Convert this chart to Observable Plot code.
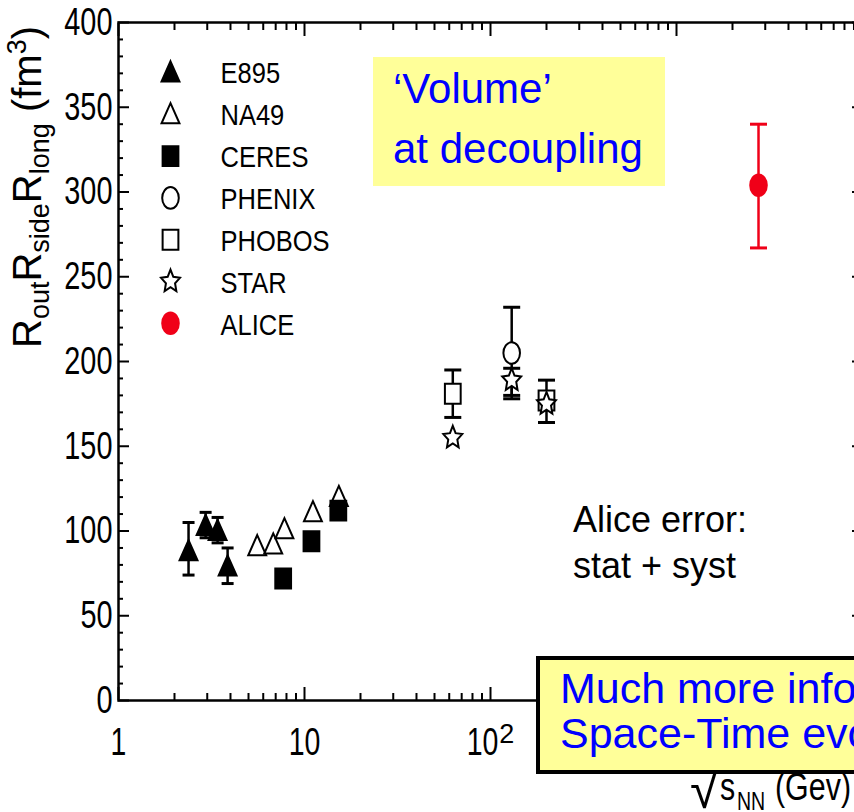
<!DOCTYPE html>
<html><head><meta charset="utf-8">
<script src="https://cdn.jsdelivr.net/npm/d3@7"></script>
<script src="https://cdn.jsdelivr.net/npm/@observablehq/plot@0.6"></script>
<style>
body{margin:0;background:#fff;}
#chart{width:854px;height:812px;overflow:hidden;}
</style>
</head><body><div id="chart"></div>
<script>
// ---------------- data ----------------
const e895X  = [2.38, 2.94, 3.41, 3.86];
const e895Y  = [88, 103, 100, 79];
const e895Lo = [74, 96, 93, 69];
const e895Hi = [105, 111, 108, 90];

const na49X = [5.57, 6.79, 7.80, 11.1, 15.3];
const na49Y = [91, 92, 101, 111, 120];

const ceresX = [7.68, 10.9, 15.2];
const ceresY = [72, 94, 112];

const phenixX  = [130];
const phenixY  = [205];
const phenixLo = [180];
const phenixHi = [232];

const phobosX  = [62.7, 200];
const phobosY  = [181, 177];
const phobosLo = [167, 164];
const phobosHi = [195, 189];

const starX  = [62.7, 130, 200];
const starY  = [155, 189, 175];
const starLo = [null, 178, null];
const starHi = [null, 196, null];

const aliceX  = [2760];
const aliceY  = [304];
const aliceLo = [267];
const aliceHi = [340];

const legendLabels = ["E895", "NA49", "CERES", "PHENIX", "PHOBOS", "STAR", "ALICE"];

const xMajorTicks = [1, 10, 100, 1000, 10000];
const xLabelTicks = [1, 10, 100];
const xTickBase = {1: "1", 10: "10", 100: "10"};
const xTickExp = {1: "", 10: "", 100: "2"};
const yMajorTicks = [0, 50, 100, 150, 200, 250, 300, 350, 400];

// ---------------- helpers ----------------
const FONT = "'Liberation Sans', Arial, Helvetica, sans-serif";
const BLUE = "#0000ff", YELLOW = "#ffff99", RED = "#f00018";

function table(xs, ys, lo, hi) {
  return xs.map((x, i) => ({x, y: ys[i], lo: lo ? lo[i] : null, hi: hi ? hi[i] : null}));
}
const e895 = table(e895X, e895Y, e895Lo, e895Hi);
const na49 = table(na49X, na49Y);
const ceres = table(ceresX, ceresY);
const phenix = table(phenixX, phenixY, phenixLo, phenixHi);
const phobos = table(phobosX, phobosY, phobosLo, phobosHi);
const star = table(starX, starY, starLo, starHi);
const alice = table(aliceX, aliceY, aliceLo, aliceHi);

function sym(fn) { return {draw(ctx, size) { fn(ctx, Math.sqrt(size / Math.PI)); }}; }
const triSym = sym((c, r) => { c.moveTo(0, -1.35 * r); c.lineTo(1.08 * r, 1.08 * r); c.lineTo(-1.08 * r, 1.08 * r); c.closePath(); });
const sqSym = sym((c, r) => { const a = 0.95 * r, b = 1.2 * r; c.moveTo(-a, -b); c.lineTo(a, -b); c.lineTo(a, b); c.lineTo(-a, b); c.closePath(); });
const ellSym = sym((c, r) => {
  const a = r, b = 1.3 * r, k = 0.5523;
  c.moveTo(a, 0);
  c.bezierCurveTo(a, b * k, a * k, b, 0, b);
  c.bezierCurveTo(-a * k, b, -a, b * k, -a, 0);
  c.bezierCurveTo(-a, -b * k, -a * k, -b, 0, -b);
  c.bezierCurveTo(a * k, -b, a, -b * k, a, 0);
  c.closePath();
});
const starSym = sym((c, r) => {
  const R = 1.2 * r, ri = 0.48 * R, sy = 1.2;
  for (let i = 0; i < 10; i++) {
    const rad = i % 2 ? ri : R, ang = -Math.PI / 2 + i * Math.PI / 5;
    const px = rad * Math.cos(ang), py = rad * Math.sin(ang) * sy;
    if (i) c.lineTo(px, py); else c.moveTo(px, py);
  }
  c.closePath();
});
const capSym = sym((c, r) => { c.moveTo(-r, 0); c.lineTo(r, 0); });

const styles = {
  E895:   {symbol: triSym,  fill: "black", stroke: "black"},
  NA49:   {symbol: triSym,  fill: "white", stroke: "black"},
  CERES:  {symbol: sqSym,   fill: "black", stroke: "black"},
  PHENIX: {symbol: ellSym,  fill: "white", stroke: "black"},
  PHOBOS: {symbol: sqSym,   fill: "white", stroke: "black"},
  STAR:   {symbol: starSym, fill: "white", stroke: "black"},
  ALICE:  {symbol: ellSym,  fill: RED,     stroke: RED}
};

function errorBars(data, color, capR) {
  const d = data.filter(p => p.lo != null);
  return [
    Plot.ruleX(d, {x: "x", y1: "lo", y2: "hi", stroke: color, strokeWidth: 2.5}),
    Plot.dot(d, {x: "x", y: "lo", symbol: capSym, r: capR, stroke: color, strokeWidth: 3, fill: "none"}),
    Plot.dot(d, {x: "x", y: "hi", symbol: capSym, r: capR, stroke: color, strokeWidth: 3, fill: "none"})
  ];
}
function points(data, name) {
  const s = styles[name];
  return Plot.dot(data, {x: "x", y: "y", r: 8.3, symbol: s.symbol, fill: s.fill, stroke: s.stroke, strokeWidth: 2});
}

const xMinorTicks = [];
for (const d of [1, 10, 100, 1000]) for (let m = 2; m <= 9; m++) xMinorTicks.push(d * m);
const yMinorTicks = d3.range(0, 401, 10).filter(v => v % 50 !== 0);

const tickOpts = {fill: "none", label: null, stroke: "black", strokeWidth: 2};

const legendMarks = legendLabels.flatMap((name, i) => {
  const s = styles[name];
  return [
    Plot.dot([0], {frameAnchor: "top-left", dx: 52, dy: 50 + i * 41.8, r: 8.3, symbol: s.symbol, fill: s.fill, stroke: s.stroke, strokeWidth: 2}),
    Plot.text([name], {frameAnchor: "top-left", dx: 102, dy: 51 + i * 42, text: d => d, textAnchor: "start", lineAnchor: "middle",
      fontSize: 30, fontFamily: FONT, fill: "black", className: "condense-legend"})
  ];
});

const svg = Plot.plot({
  width: 854,
  height: 812,
  marginLeft: 118,
  marginRight: -8,
  marginTop: 22,
  marginBottom: 112,
  style: {background: "white", overflow: "hidden", fontFamily: FONT},
  x: {type: "log", domain: [1, 10000]},
  y: {domain: [0, 400]},
  marks: [
    // ticks pointing inward on all four sides
    Plot.axisX(xMajorTicks, {anchor: "bottom", tickSize: -13, ...tickOpts}),
    Plot.axisX(xMinorTicks, {anchor: "bottom", tickSize: -7, ...tickOpts}),
    Plot.axisX(xMajorTicks, {anchor: "top", tickSize: -13, ...tickOpts}),
    Plot.axisX(xMinorTicks, {anchor: "top", tickSize: -7, ...tickOpts}),
    Plot.axisY(yMajorTicks, {anchor: "left", tickSize: -11, ...tickOpts}),
    Plot.axisY(yMinorTicks, {anchor: "left", tickSize: -5, ...tickOpts}),
    Plot.axisY(yMajorTicks, {anchor: "right", tickSize: -11, ...tickOpts}),
    Plot.axisY(yMinorTicks, {anchor: "right", tickSize: -5, ...tickOpts}),
    // tick labels
    Plot.axisX(xLabelTicks, {anchor: "bottom", tickSize: 0, tickPadding: 27, tickFormat: d => xTickBase[d] + xTickExp[d],
      fontSize: 39, fontFamily: FONT, fill: "black", label: null}),
    Plot.axisY(yMajorTicks, {anchor: "left", tickSize: 0, tickPadding: 6,
      fontSize: 39, fontFamily: FONT, fill: "black", label: null}),
    Plot.frame({stroke: "black", strokeWidth: 2.5}),
    // error bars
    ...errorBars(e895, "black", 6),
    ...errorBars(phenix, "black", 8.5),
    ...errorBars(phobos, "black", 8.5),
    ...errorBars(star, "black", 8.5),
    ...errorBars(alice, RED, 8.5),
    // points
    points(e895, "E895"),
    points(na49, "NA49"),
    points(ceres, "CERES"),
    points(phenix, "PHENIX"),
    points(phobos, "PHOBOS"),
    points(star, "STAR"),
    points(alice, "ALICE"),
    ...legendMarks
  ]
});

document.getElementById("chart").append(svg);

function condenseEl(t, f) {
  const L = t.getComputedTextLength();
  t.setAttribute("textLength", (L * f).toFixed(1));
  t.setAttribute("lengthAdjust", "spacingAndGlyphs");
}

// x tick labels: rebuild the power label with a real superscript, then condense
svg.querySelectorAll('g[aria-label="x-axis tick label"] text').forEach(t => {
  const txt = t.textContent;
  const tick = xLabelTicks.find(d => xTickBase[d] + xTickExp[d] === txt);
  if (tick != null && xTickExp[tick]) {
    const sel = d3.select(t);
    sel.text(null);
    const b = sel.append("tspan").text(xTickBase[tick]);
    sel.append("tspan").attr("dy", "-0.45em").attr("dx", 1).style("font-size", "27px").text(xTickExp[tick]);
    const L = b.node().getComputedTextLength();
    b.attr("textLength", (L * 0.73).toFixed(1)).attr("lengthAdjust", "spacingAndGlyphs");
  } else {
    condenseEl(t, 0.73);
  }
});
svg.querySelectorAll('g[aria-label="y-axis tick label"] text').forEach(t => condenseEl(t, 0.74));
svg.querySelectorAll('g.condense-legend text').forEach(t => condenseEl(t, 0.85));

// ---------------- annotations & titles ----------------
const s = d3.select(svg);
const ann = s.append("g").attr("font-family", FONT).attr("text-anchor", "start");

// y-axis title
const yt = ann.append("text").attr("transform", "translate(41,348) rotate(-90)")
  .attr("font-size", 40).attr("fill", "black");
const parts = [["R", 0], ["out", 1], ["R", 0], ["side", 1], ["R", 0], ["long", 1], [" (fm", 0], ["3", 2], [")", 0]];
let cur = 0;
for (const [txt, kind] of parts) {
  const target = kind === 1 ? 8 : kind === 2 ? -15 : 0;
  yt.append("tspan").attr("dy", target - cur).attr("font-size", kind ? 27 : 40).text(txt);
  cur = target;
}

// x-axis title
ann.append("text").attr("x", 690).attr("y", 808).attr("font-size", 52).attr("fill", "black").text("√");
const xs1 = ann.append("text").attr("x", 720).attr("y", 800).attr("font-size", 38).attr("fill", "black").text("s");
const xs2 = ann.append("text").attr("x", 737).attr("y", 810).attr("font-size", 26).attr("fill", "black").text("NN");
const xs3 = ann.append("text").attr("x", 775).attr("y", 800).attr("font-size", 38).attr("fill", "black").text("(Gev)");
[[xs1, 0.8], [xs2, 0.75], [xs3, 0.8]].forEach(([t, f]) => condenseEl(t.node(), f));

// 'Volume' box
ann.append("rect").attr("x", 373).attr("y", 57).attr("width", 292).attr("height", 129).attr("fill", YELLOW);
ann.append("text").attr("x", 393).attr("y", 103).attr("font-size", 42).attr("fill", BLUE).text("‘Volume’");
ann.append("text").attr("x", 393).attr("y", 163).attr("font-size", 42).attr("fill", BLUE).text("at decoupling");

// Alice error note
ann.append("text").attr("x", 573).attr("y", 532).attr("font-size", 36).attr("fill", "black").text("Alice error:");
ann.append("text").attr("x", 573).attr("y", 578).attr("font-size", 36).attr("fill", "black").text("stat + syst");

// bottom box
ann.append("rect").attr("x", 538).attr("y", 658).attr("width", 420).attr("height", 114)
  .attr("fill", YELLOW).attr("stroke", "black").attr("stroke-width", 4);
ann.append("text").attr("x", 560).attr("y", 703).attr("font-size", 43).attr("fill", BLUE).text("Much more information on");
ann.append("text").attr("x", 560).attr("y", 748).attr("font-size", 43).attr("fill", BLUE).text("Space-Time evolution");
</script>
</body></html>
